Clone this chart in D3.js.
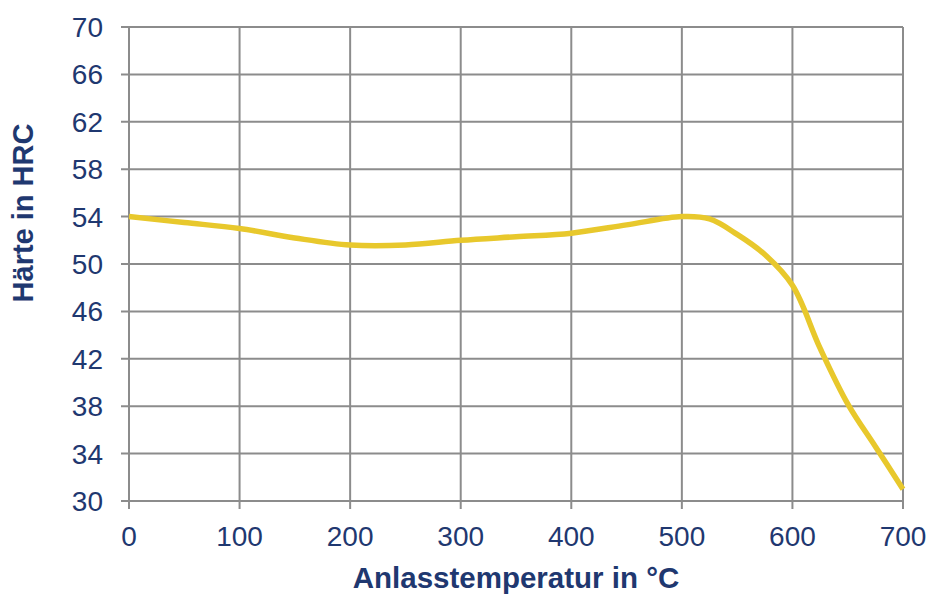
<!DOCTYPE html>
<html>
<head>
<meta charset="utf-8">
<script src="https://cdn.jsdelivr.net/npm/d3@7"></script>
<style>
  body { margin: 0; background: #fff; }
  svg text { font-family: "Liberation Sans", Arial, sans-serif; fill: #1f3870; }
</style>
</head>
<body>
<div id="chart"></div>
<script>
// Anlasskurve: Temperatur (°C) gegen Härte (HRC)
var temps = [0, 50, 100, 150, 200, 250, 300, 350, 400, 450, 500, 525, 550, 575, 600, 625, 650, 675, 700];
var hardness = [54, 53.5, 53, 52.2, 51.6, 51.6, 52, 52.3, 52.6, 53.3, 54, 53.8, 52.5, 50.8, 48.2, 42.9, 38.2, 34.6, 31];
var xTicks = [0, 100, 200, 300, 400, 500, 600, 700];
var yTicks = [30, 34, 38, 42, 46, 50, 54, 58, 62, 66, 70];

var svg = d3.select("#chart").append("svg").attr("width", 929).attr("height", 594),
    margin = {top: 27, right: 26, bottom: 93, left: 129},
    width = 929 - margin.left - margin.right,
    height = 594 - margin.top - margin.bottom,
    g = svg.append("g").attr("transform", "translate(" + margin.left + "," + margin.top + ")");

var x = d3.scaleLinear().domain([0, 700]).range([0, width]),
    y = d3.scaleLinear().domain([30, 70]).range([height, 0]);

var gridColor = "#8c8c8c";

// gitterlinien
g.selectAll(".hgrid").data(yTicks).enter().append("line")
    .attr("x1", -8).attr("x2", width)
    .attr("y1", function(d) { return y(d); })
    .attr("y2", function(d) { return y(d); })
    .style("stroke", gridColor).style("stroke-width", 2);

g.selectAll(".vgrid").data(xTicks).enter().append("line")
    .attr("x1", function(d) { return x(d); })
    .attr("x2", function(d) { return x(d); })
    .attr("y1", 0).attr("y2", height + 8)
    .style("stroke", gridColor).style("stroke-width", 2);

// achsenbeschriftung
g.selectAll(".ylab").data(yTicks).enter().append("text")
    .attr("x", -26)
    .attr("y", function(d) { return y(d); })
    .attr("dy", "0.36em")
    .attr("text-anchor", "end")
    .style("font-size", "28px")
    .text(function(d) { return d; });

g.selectAll(".xlab").data(xTicks).enter().append("text")
    .attr("x", function(d) { return x(d); })
    .attr("y", height + 45)
    .attr("text-anchor", "middle")
    .style("font-size", "28px")
    .text(function(d) { return d; });

var line = d3.line()
    .curve(d3.curveCatmullRom.alpha(0.5))
    .x(function(d, i) { return x(temps[i]); })
    .y(function(d) { return y(d); });

g.append("path")
    .attr("d", line(hardness))
    .style("fill", "none")
    .style("stroke", "#e8c82c")
    .style("stroke-width", 5.5)
    .style("stroke-linecap", "butt");

svg.append("text")
    .attr("x", margin.left + width / 2)
    .attr("y", 588)
    .attr("text-anchor", "middle")
    .style("font-size", "29.5px")
    .style("font-weight", "bold")
    .text("Anlasstemperatur in °C");

svg.append("text")
    .attr("transform", "translate(33,213) rotate(-90)")
    .attr("text-anchor", "middle")
    .style("font-size", "29px")
    .style("font-weight", "bold")
    .text("Härte in HRC");
</script>
</body>
</html>
